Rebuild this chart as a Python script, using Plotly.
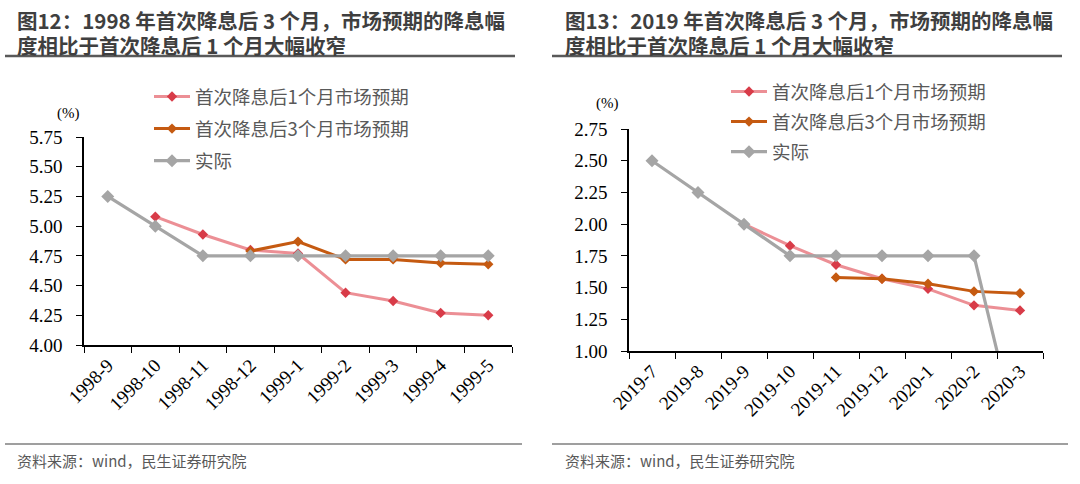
import plotly.graph_objects as go

# ---------------- data ----------------
months_l = ["1998-9", "1998-10", "1998-11", "1998-12", "1999-1", "1999-2", "1999-3", "1999-4", "1999-5"]
exp1_l = [None, 5.08, 4.93, 4.80, 4.77, 4.44, 4.37, 4.27, 4.25]
exp3_l = [None, None, None, 4.79, 4.87, 4.72, 4.72, 4.69, 4.68]
act_l = [5.25, 5.00, 4.75, 4.75, 4.75, 4.75, 4.75, 4.75, 4.75]
yticks_l = [4.00, 4.25, 4.50, 4.75, 5.00, 5.25, 5.50, 5.75]

months_r = ["2019-7", "2019-8", "2019-9", "2019-10", "2019-11", "2019-12", "2020-1", "2020-2", "2020-3"]
exp1_r = [None, None, 2.00, 1.83, 1.68, 1.57, 1.49, 1.36, 1.32]
exp3_r = [None, None, None, None, 1.58, 1.57, 1.53, 1.47, 1.455]
act_r = [2.50, 2.25, 2.00, 1.75, 1.75, 1.75, 1.75, 1.75, 0.25]
yticks_r = [1.00, 1.25, 1.50, 1.75, 2.00, 2.25, 2.50, 2.75]

names = ["首次降息后1个月市场预期", "首次降息后3个月市场预期", "实际"]
title_l = ["图12：1998 年首次降息后 3 个月，市场预期的降息幅", "度相比于首次降息后 1 个月大幅收窄"]
title_r = ["图13：2019 年首次降息后 3 个月，市场预期的降息幅", "度相比于首次降息后 1 个月大幅收窄"]
source = "资料来源：wind，民生证券研究院"

# ---------------- styles ----------------
W, H = 1080, 484
line_colors = ["rgba(228,100,108,0.72)", "#C55A11", "#A5A5A5"]
marker_colors = ["#D83B48", "#C55A11", "#A5A5A5"]
SERIF = "Liberation Serif, Times New Roman, serif"
CJK = "Noto Sans CJK SC, sans-serif"

fig = go.Figure()

def add_series(xs, series, xa, ya, leg):
    for i, (ys, nm) in enumerate(zip(series, names)):
        fig.add_trace(go.Scatter(
            x=xs, y=ys, name=nm, mode="lines+markers",
            xaxis=xa, yaxis=ya, legend=leg, legendgroup=leg + str(i),
            line=dict(color=line_colors[i], width=3.2 if i == 2 else 3),
            marker=dict(symbol="diamond", size=10 if i == 2 else 8, color=marker_colors[i]),
        ))

add_series(months_l, [exp1_l, exp3_l, act_l], "x", "y", "legend")
add_series(months_r, [exp1_r, exp3_r, act_r], "x2", "y2", "legend2")

def px(v):
    return v / W

def py(v):
    return 1 - v / H

xcommon = dict(type="category", showline=True, linecolor="#000000", linewidth=1.5,
               ticks="outside", ticklen=6, tickcolor="#000000", tickson="boundaries",
               tickangle=-45, tickfont=dict(family=SERIF, size=19, color="#000000"),
               showgrid=False, zeroline=False, automargin=False)
ycommon = dict(showline=True, linecolor="#000000", linewidth=1.5, ticks="outside",
               ticklen=6, tickcolor="#000000", showgrid=False, zeroline=False,
               tickfont=dict(family=SERIF, size=19, color="#000000"), tickformat=".2f",
               ticklabelstandoff=10, automargin=False)

fig.update_layout(
    width=W, height=H, autosize=False, margin=dict(l=0, r=0, t=0, b=0, pad=0),
    paper_bgcolor="white", plot_bgcolor="white", showlegend=True,
    xaxis=dict(xcommon, domain=[px(84), px(512)], anchor="y",
               categoryorder="array", categoryarray=months_l, range=[-0.5, 8.5]),
    yaxis=dict(ycommon, domain=[py(345), py(137)], anchor="x", range=[4.0, 5.75],
               tickvals=yticks_l),
    xaxis2=dict(xcommon, domain=[px(629), px(1043)], anchor="y2",
                categoryorder="array", categoryarray=months_r, range=[-0.5, 8.5]),
    yaxis2=dict(ycommon, domain=[py(351), py(129)], anchor="x2", range=[1.0, 2.75],
                tickvals=yticks_r),
    legend=dict(x=px(149), y=py(78), xanchor="left", yanchor="top",
                bgcolor="rgba(0,0,0,0)", font=dict(family=CJK, size=18.5, color="#595959"),
                traceorder="grouped", tracegroupgap=5, itemwidth=36),
    legend2=dict(x=px(726), y=py(73), xanchor="left", yanchor="top",
                 bgcolor="rgba(0,0,0,0)", font=dict(family=CJK, size=18.5, color="#595959"),
                 traceorder="grouped", tracegroupgap=3, itemwidth=36),
)

anns = []
for xpos, lines in [(15, title_l), (563, title_r)]:
    for ln, ypos in zip(lines, [20, 44.5]):
        anns.append(dict(x=px(xpos), y=py(ypos), xref="paper", yref="paper", xanchor="left",
                         yanchor="middle", text="<b>" + ln + "</b>", showarrow=False,
                         font=dict(family=CJK, size=20.5, color="#3F3F3F")))
for xpos, ypos in [(68, 113), (607, 104)]:
    anns.append(dict(x=px(xpos), y=py(ypos), xref="paper", yref="paper", xanchor="center",
                     yanchor="middle", text="(%)", showarrow=False,
                     font=dict(family=SERIF, size=15, color="#000000")))
for xpos in [15, 563]:
    anns.append(dict(x=px(xpos), y=py(460), xref="paper", yref="paper", xanchor="left",
                     yanchor="middle", text=source, showarrow=False,
                     font=dict(family=CJK, size=15, color="#595959")))
fig.update_layout(annotations=anns)

shapes = []
for x0, x1 in [(5, 515), (552, 1062)]:
    shapes.append(dict(type="line", xref="paper", yref="paper", x0=px(x0), x1=px(x1),
                       y0=py(56), y1=py(56), line=dict(color="#595959", width=2.5)))
for x0, x1 in [(5, 522), (552, 1068)]:
    shapes.append(dict(type="line", xref="paper", yref="paper", x0=px(x0), x1=px(x1),
                       y0=py(444), y1=py(444), line=dict(color="#7F7F7F", width=1.5)))
fig.update_layout(shapes=shapes)

fig.write_html("out.html", config={"displayModeBar": False},
               post_script="document.body.style.margin='0px';")
